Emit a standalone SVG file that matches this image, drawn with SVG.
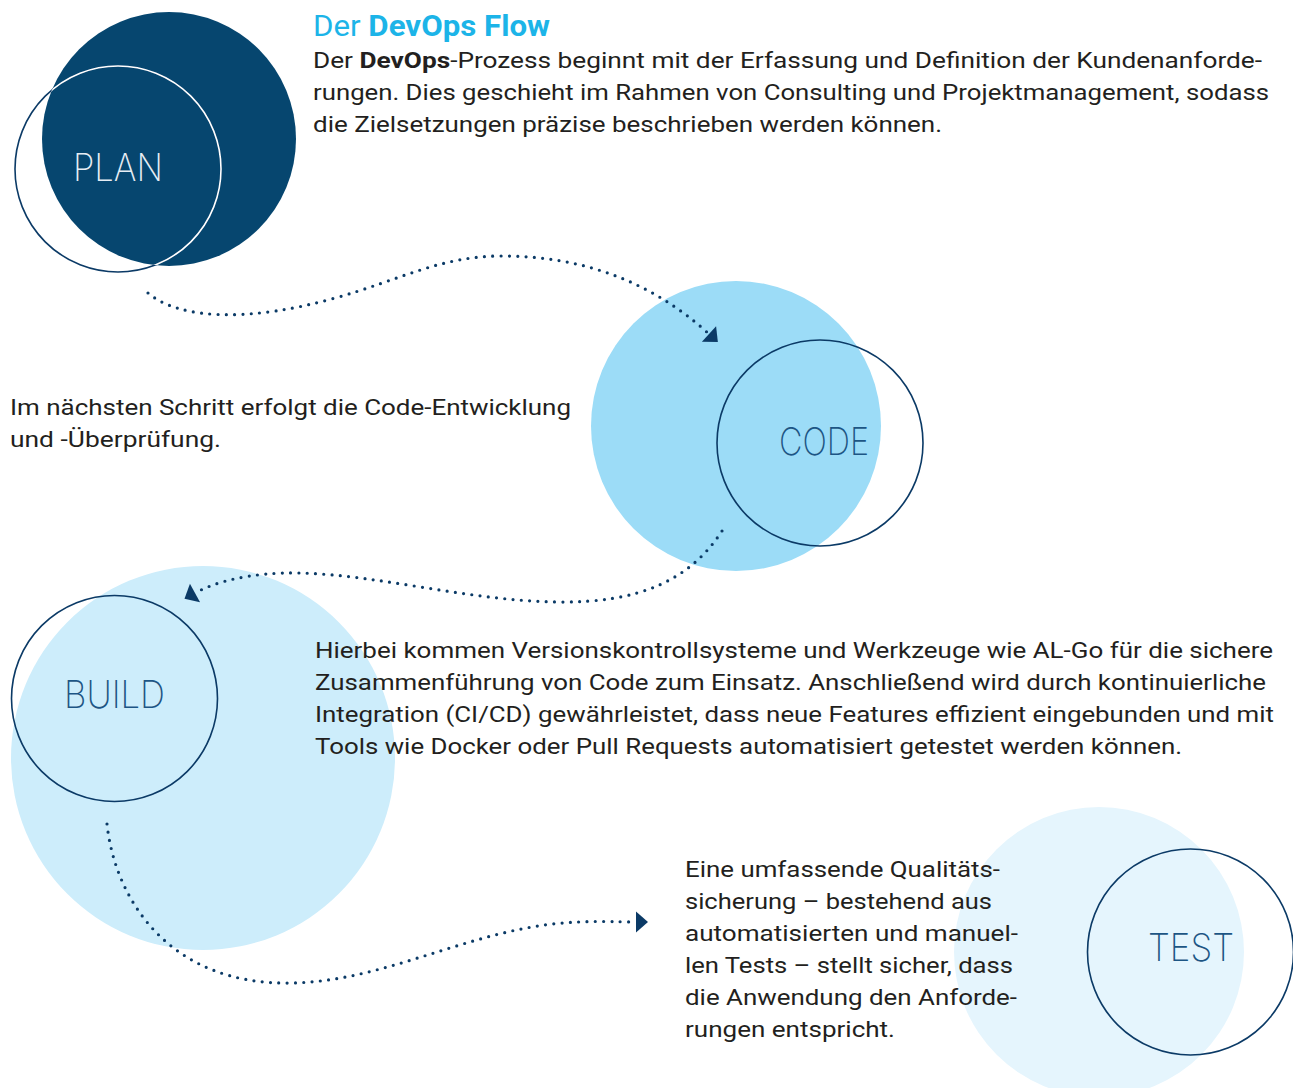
<svg xmlns="http://www.w3.org/2000/svg" width="1293" height="1088" viewBox="0 0 1293 1088">
<style>
.body{font-family:Roboto,"Liberation Sans",sans-serif;font-size:22.5px;fill:#231f20}
.b{font-weight:700}
.title{font-family:Roboto,"Liberation Sans",sans-serif;font-size:29px;fill:#1cb4e8}
.lbl{font-family:Inter,"Open Sans",Roboto,"Liberation Sans",sans-serif;font-size:38px;font-weight:200}
.ring{fill:none;stroke:#0b3a66;stroke-width:1.6}
.dots{fill:none;stroke:#0b3a66;stroke-width:3.2;stroke-linecap:round;stroke-dasharray:0 8.3}
</style>
<defs>
<clipPath id="planClip"><circle cx="169" cy="139" r="127"/></clipPath>
<marker id="ah" markerUnits="userSpaceOnUse" markerWidth="16" markerHeight="24" viewBox="0 -12 14 24" refX="0" refY="0" orient="auto">
<path d="M0,-10.5 L12,0 L0,10.5 z" fill="#0b3a66"/>
</marker>
</defs>
<rect width="1293" height="1088" fill="#ffffff"/>

<g id="plan">
<circle cx="169" cy="139" r="127" fill="#06466f"/>
<circle class="ring" cx="118" cy="169" r="103"/>
<circle cx="118" cy="169" r="103" fill="none" stroke="#ffffff" stroke-width="1.6" clip-path="url(#planClip)"/>
<text class="lbl" x="73" y="181" fill="#e6edf4" textLength="90" lengthAdjust="spacingAndGlyphs">PLAN</text>
</g>

<g id="code">
<circle cx="736" cy="426" r="145" fill="#9cdcf7"/>
<circle class="ring" cx="820" cy="443" r="103"/>
<text class="lbl" x="779" y="455" fill="#1d5584" textLength="90" lengthAdjust="spacingAndGlyphs">CODE</text>
</g>

<g id="build">
<circle cx="203" cy="758" r="192" fill="#cdedfb"/>
<circle class="ring" cx="114.5" cy="698.5" r="103"/>
<text class="lbl" x="64" y="708" fill="#1d5584" textLength="101" lengthAdjust="spacingAndGlyphs">BUILD</text>
</g>

<g id="test">
<circle cx="1099" cy="952" r="145" fill="#e5f5fd"/>
<circle class="ring" cx="1190.5" cy="952" r="103"/>
<text class="lbl" x="1148" y="961" fill="#1d5584" textLength="86" lengthAdjust="spacingAndGlyphs">TEST</text>
</g>

<g id="connectors">
<path class="dots" marker-end="url(#ah)" d="M148,293 C180,320 250,322 335,298 C400,280 440,256 502,256 C580,256 650,280 709,334"/>
<path class="dots" marker-end="url(#ah)" d="M722,531 C690,580 640,603 558,602 C470,601 380,575 300,573 C250,572 215,582 195,593"/>
<path class="dots" marker-end="url(#ah)" d="M107,824 C115,900 170,985 290,983 C380,982 460,935 552,924 C590,920 615,922 636,922"/>
</g>

<g id="text-plan">
<text class="title" x="313" y="36" textLength="237" lengthAdjust="spacingAndGlyphs">Der <tspan class="b">DevOps Flow</tspan></text>
<text class="body" x="313" y="68" textLength="949" lengthAdjust="spacingAndGlyphs">Der <tspan class="b">DevOps</tspan>-Prozess beginnt mit der Erfassung und Definition der Kundenanforde-</text>
<text class="body" x="313" y="100" textLength="956" lengthAdjust="spacingAndGlyphs">rungen. Dies geschieht im Rahmen von Consulting und Projektmanagement, sodass</text>
<text class="body" x="313" y="132" textLength="629" lengthAdjust="spacingAndGlyphs">die Zielsetzungen präzise beschrieben werden können.</text>
</g>

<g id="text-code">
<text class="body" x="10" y="415" textLength="561" lengthAdjust="spacingAndGlyphs">Im nächsten Schritt erfolgt die Code-Entwicklung</text>
<text class="body" x="10" y="447" textLength="211" lengthAdjust="spacingAndGlyphs">und -Überprüfung.</text>
</g>

<g id="text-build">
<text class="body" x="315" y="658" textLength="958" lengthAdjust="spacingAndGlyphs">Hierbei kommen Versionskontrollsysteme und Werkzeuge wie AL-Go für die sichere</text>
<text class="body" x="315" y="690" textLength="951" lengthAdjust="spacingAndGlyphs">Zusammenführung von Code zum Einsatz. Anschließend wird durch kontinuierliche</text>
<text class="body" x="315" y="722" textLength="959" lengthAdjust="spacingAndGlyphs">Integration (CI/CD) gewährleistet, dass neue Features effizient eingebunden und mit</text>
<text class="body" x="315" y="754" textLength="867" lengthAdjust="spacingAndGlyphs">Tools wie Docker oder Pull Requests automatisiert getestet werden können.</text>
</g>

<g id="text-test">
<text class="body" x="685" y="877" textLength="315" lengthAdjust="spacingAndGlyphs">Eine umfassende Qualitäts-</text>
<text class="body" x="685" y="909" textLength="307" lengthAdjust="spacingAndGlyphs">sicherung – bestehend aus</text>
<text class="body" x="685" y="941" textLength="333" lengthAdjust="spacingAndGlyphs">automatisierten und manuel-</text>
<text class="body" x="685" y="973" textLength="328" lengthAdjust="spacingAndGlyphs">len Tests – stellt sicher, dass</text>
<text class="body" x="685" y="1005" textLength="332" lengthAdjust="spacingAndGlyphs">die Anwendung den Anforde-</text>
<text class="body" x="685" y="1037" textLength="210" lengthAdjust="spacingAndGlyphs">rungen entspricht.</text>
</g>
</svg>
